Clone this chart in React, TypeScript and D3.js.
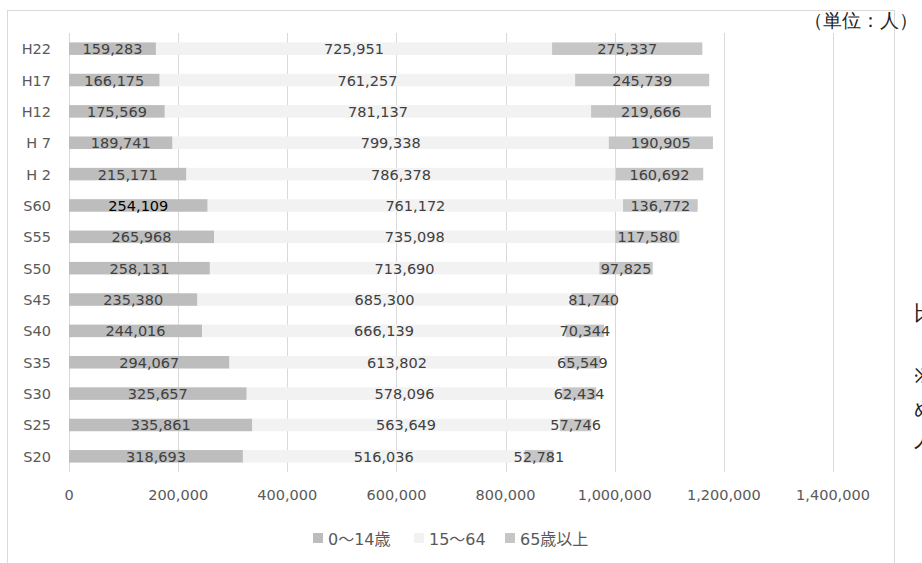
import React from "react";
import * as d3 from "d3";

const categories = ["H22", "H17", "H12", "H 7", "H 2", "S60", "S55", "S50", "S45", "S40", "S35", "S30", "S25", "S20"];
const young = [159283, 166175, 175569, 189741, 215171, 254109, 265968, 258131, 235380, 244016, 294067, 325657, 335861, 318693];
const working = [725951, 761257, 781137, 799338, 786378, 761172, 735098, 713690, 685300, 666139, 613802, 578096, 563649, 516036];
const elderly = [275337, 245739, 219666, 190905, 160692, 136772, 117580, 97825, 81740, 70344, 65549, 62434, 57746, 52781];
const seriesNames = ["0～14歳", "15～64", "65歳以上"];
const xTicks = [0, 200000, 400000, 600000, 800000, 1000000, 1200000, 1400000];
const sideChars = ["比", "※", "ぬ", "人"];

const W = 922;
const H = 563;
const colors = ["#bdbdbd", "#f2f2f2", "#c6c6c6"];
const numFont = "'DejaVu Sans', 'Noto Sans CJK JP', sans-serif";

export default function App() {
  const x = d3.scaleLinear().domain([0, 1400000]).range([69, 833]);
  const y = d3.scaleBand<string>().domain(categories).range([33, 472]).paddingInner(0.6).paddingOuter(0.3);
  const fmt = d3.format(",");

  const rows = categories.map((c, i) => ({ c, vals: [young[i], working[i], elderly[i]] }));
  const stack = d3.stack<{ c: string; vals: number[] }, number>()
    .keys([0, 1, 2])
    .value((d, k) => d.vals[k]);
  const stacked = stack(rows);

  const sideY = [312, 375, 407, 438];
  const legendX = [313, 414, 505];

  return (
    <svg width={W} height={H} style={{ position: "absolute", left: 0, top: 0, background: "#fff" }}>
      <rect x={7.5} y={10.5} width={887} height={H + 20} fill="#fff" stroke="#d9d9d9" strokeWidth={1} />
      {xTicks.map((t) => (
        <line key={t} x1={Math.round(x(t)) + 0.5} x2={Math.round(x(t)) + 0.5} y1={33} y2={472} stroke="#d9d9d9" strokeWidth={1} />
      ))}
      {stacked.map((s, si) =>
        s.map((seg, i) => {
          const yy = y(categories[i])!;
          return (
            <rect key={`${si}-${i}`} x={x(seg[0])} y={yy} width={x(seg[1]) - x(seg[0])} height={y.bandwidth()} fill={colors[si]} />
          );
        })
      )}
      {stacked.map((s, si) =>
        s.map((seg, i) => {
          const yy = y(categories[i])! + y.bandwidth() / 2;
          const isBlack = si === 0 && categories[i] === "S60";
          return (
            <text key={`t${si}-${i}`} x={(x(seg[0]) + x(seg[1])) / 2} y={yy + 5.5} textAnchor="middle"
              fontFamily={numFont} fontSize={14.5} fill={isBlack ? "#000" : "#404040"}>
              {fmt(seg[1] - seg[0])}
            </text>
          );
        })
      )}
      {categories.map((c) => (
        <text key={c} x={51} y={y(c)! + y.bandwidth() / 2 + 5.5} textAnchor="end" fontFamily={numFont} fontSize={14.5} fill="#595959" style={{ whiteSpace: "pre" }}>
          {c}
        </text>
      ))}
      {xTicks.map((t) => (
        <text key={`x${t}`} x={x(t)} y={500} textAnchor="middle" fontFamily={numFont} fontSize={14.5} fill="#595959">
          {fmt(t)}
        </text>
      ))}
      {seriesNames.map((n, i) => (
        <g key={n}>
          <rect x={legendX[i]} y={533} width={10} height={10} fill={colors[i]} />
          <text x={legendX[i] + 15} y={545} fontFamily={numFont} fontSize={16} fill="#595959">{n}</text>
        </g>
      ))}
      <text x={804} y={27} fontFamily="serif" fontSize={18.5} fill="#222">（単位：人）</text>
      {sideChars.map((ch, i) => (
        <text key={ch} x={914} y={sideY[i] + 8} fontFamily="serif" fontSize={21} fill="#222">{ch}</text>
      ))}
    </svg>
  );
}
